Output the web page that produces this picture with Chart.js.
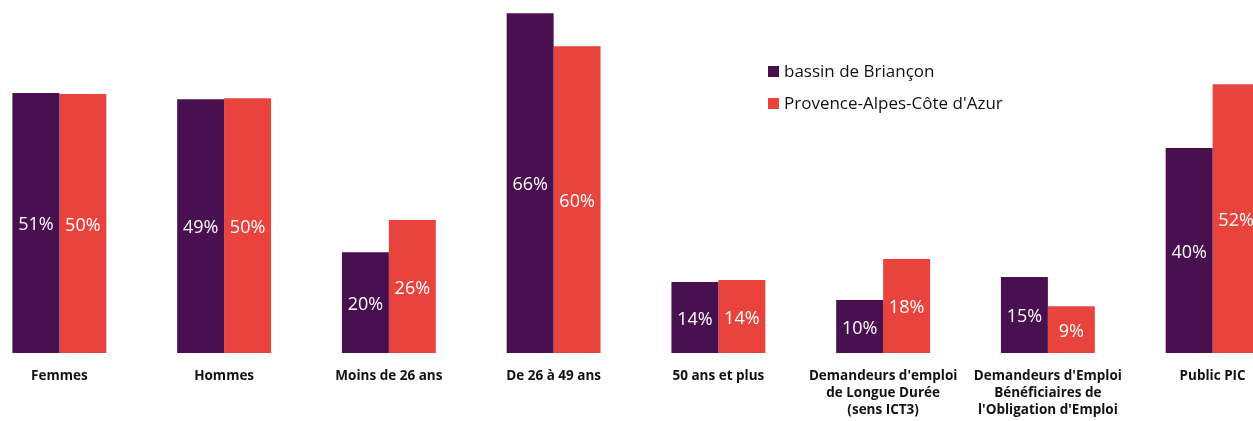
<!DOCTYPE html>
<html>
<head>
<meta charset="utf-8">
<script src="https://cdn.jsdelivr.net/npm/chart.js@4.4.1/dist/chart.umd.min.js"></script>
<style>
  html, body { margin: 0; padding: 0; background: #fff; overflow: hidden; width: 1253px; height: 421px; }
  #wrap { position: absolute; left: -23px; top: 0; width: 1318px; height: 421px; }
  .legend { position: absolute; left: 768px; font-family: "Open Sans", sans-serif; font-size: 17px; color: #111; }
  .legend span.sw { display: inline-block; width: 11px; height: 11px; margin-right: 5px; vertical-align: 0px; }
</style>
</head>
<body>
<div id="wrap"><canvas id="c" width="1318" height="421"></canvas></div>
<div class="legend" style="top:59px"><span class="sw" style="background:#48104F"></span>bassin de Briançon</div>
<div class="legend" style="top:91px"><span class="sw" style="background:#E8433C"></span>Provence-Alpes-Côte d'Azur</div>
<script>
const categories = [
  "Femmes",
  "Hommes",
  "Moins de 26 ans",
  "De 26 à 49 ans",
  "50 ans et plus",
  ["Demandeurs d'emploi", "de Longue Durée", "(sens ICT3)"],
  ["Demandeurs d'Emploi", "Bénéficiaires de", "l'Obligation d'Emploi"],
  "Public PIC"
];
const seriesNames = ["bassin de Briançon", "Provence-Alpes-Côte d'Azur"];
const briancon = [50.6, 49.4, 19.6, 66.1, 13.8, 10.3, 14.8, 39.9];
const paca = [50.4, 49.6, 25.9, 59.7, 14.2, 18.3, 9.1, 52.3];
const colors = ["#48104F", "#E8433C"];

const barLabels = {
  id: 'barLabels',
  afterDatasetsDraw(chart) {
    const ctx = chart.ctx;
    ctx.save();
    ctx.fillStyle = '#fff';
    ctx.font = '18px "Open Sans", sans-serif';
    ctx.textAlign = 'center';
    ctx.textBaseline = 'middle';
    chart.data.datasets.forEach((ds, i) => {
      chart.getDatasetMeta(i).data.forEach((bar, j) => {
        const y = (bar.y + bar.base) / 2 + 2;
        ctx.fillText(Math.round(ds.data[j]) + '%', bar.x, y);
      });
    });
    ctx.restore();
  }
};

new Chart(document.getElementById('c'), {
  type: 'bar',
  data: {
    labels: categories,
    datasets: [
      { label: seriesNames[0], data: briancon, backgroundColor: colors[0], borderWidth: 0, categoryPercentage: 0.57, barPercentage: 1 },
      { label: seriesNames[1], data: paca, backgroundColor: colors[1], borderWidth: 0, categoryPercentage: 0.57, barPercentage: 1 }
    ]
  },
  options: {
    responsive: false,
    animation: false,
    layout: { padding: 0 },
    plugins: { legend: { display: false }, tooltip: { enabled: false } },
    scales: {
      x: {
        grid: { display: false, drawTicks: false },
        border: { display: false },
        afterFit(scale) { scale.height = 68; },
        ticks: {
          autoSkip: false, maxRotation: 0, padding: 15,
          color: '#111',
          font: { family: '"Open Sans", sans-serif', size: 13.5, weight: 'bold', lineHeight: 1.25 }
        }
      },
      y: {
        display: false,
        min: 0, max: 68.7,
        grid: { display: false }
      }
    }
  },
  plugins: [barLabels]
});
</script>
</body>
</html>
